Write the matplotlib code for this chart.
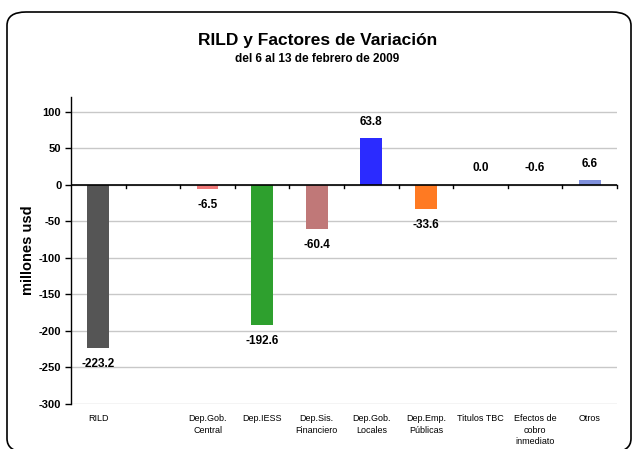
import matplotlib
matplotlib.use("Agg")
import matplotlib.pyplot as plt
from matplotlib.patches import FancyBboxPatch
import numpy as np

plt.rcParams['font.family'] = ['Liberation Sans', 'DejaVu Sans']

categories = ["RILD", "", "Dep.Gob.\nCentral", "Dep.IESS", "Dep.Sis.\nFinanciero",
              "Dep.Gob.\nLocales", "Dep.Emp.\nPúblicas", "Titulos TBC",
              "Efectos de\ncobro\ninmediato", "Otros"]
values = [-223.2, None, -6.5, -192.6, -60.4, 63.8, -33.6, 0.0, -0.6, 6.6]
colors = ["#555555", "#ffffff", "#f07878", "#2ea02e", "#c07878",
          "#2b2bff", "#ff7a22", "#ffffff", "#ffffff", "#7f90dc"]
yticks = [100, 50, 0, -50, -100, -150, -200, -250, -300]

fig = plt.figure(figsize=(6.35, 4.49), dpi=100)
ax = fig.add_axes([0.1118, 0.1002, 0.8599, 0.684])

x = np.arange(len(categories))
for xi, v, c in zip(x, values, colors):
    if v is None:
        continue
    ax.bar(xi, v, width=0.4, color=c, edgecolor=c, linewidth=0, zorder=3)
    txt = f"{v:.1f}"
    if v < -1:
        ax.annotate(txt, (xi, v), xytext=(0, -7), textcoords="offset points",
                    ha="center", va="top", fontsize=8.5, fontweight="bold")
    else:
        ax.annotate(txt, (xi, max(v, 0)), xytext=(0, 7) if v > 1 else (0, 8), textcoords="offset points",
                    ha="center", va="bottom", fontsize=8.5, fontweight="bold")

ax.set_xlim(-0.5, len(categories) - 0.5)
ax.set_ylim(-300, 120)
ax.set_yticks(yticks)
ax.set_yticklabels([str(t) for t in yticks], fontsize=8, fontweight="bold")
ax.yaxis.grid(True, color="#c8c8c8", linewidth=1, zorder=0)
ax.set_axisbelow(True)

for s in ["top", "right", "bottom"]:
    ax.spines[s].set_visible(False)
ax.spines["left"].set_linewidth(1)
ax.tick_params(axis="y", length=4, width=1, direction="out", pad=3)

# zero line with category-boundary ticks
ax.axhline(0, color="black", linewidth=1.2, zorder=4)
for b in np.arange(0.5, len(categories) - 0.5 + 1, 1):
    ax.plot([b, b], [0, -4], color="black", linewidth=1, zorder=4, clip_on=False)

ax.set_xticks(x)
ax.set_xticklabels(categories, fontsize=6.5, linespacing=1.4)
ax.tick_params(axis="x", length=0, pad=7)
for lbl in ax.get_xticklabels():
    lbl.set_va("top")

ax.set_ylabel("millones usd", fontsize=10.5, fontweight="bold", labelpad=3)

fig.text(0.5, 0.910, "RILD y Factores de Variación", ha="center", va="center",
         fontsize=12.5, fontweight="bold")
fig.text(0.5, 0.868, "del 6 al 13 de febrero de 2009", ha="center", va="center",
         fontsize=8.5, fontweight="bold")

border = FancyBboxPatch((7 / 635, 1 - 452 / 449), 624 / 635, 440 / 449,
                        boxstyle="round,pad=0,rounding_size=0.03",
                        transform=fig.transFigure, fill=False,
                        edgecolor="black", linewidth=1.2, clip_on=False)
fig.patches.append(border)

fig.savefig("out.png", dpi=100)
